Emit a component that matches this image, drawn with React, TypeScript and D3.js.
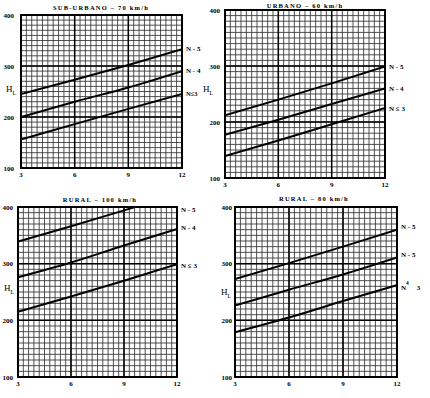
import React from "react";
import * as d3 from "d3";

// x = 3..12, y (H_L) = 100..400
const xTicks = [3, 6, 9, 12];
const yTicks = [100, 200, 300, 400];
const xSamples = [3, 6, 9, 12];

// SUB-URBANO 70 km/h
const subUrbanoN5 = [245, 273, 302, 333];
const subUrbanoN4 = [200, 230, 258, 290];
const subUrbanoN3 = [156, 186, 216, 245];

// URBANO 60 km/h
const urbanoN5 = [212, 240, 269, 299];
const urbanoN4 = [177, 204, 232, 260];
const urbanoN3 = [139, 167, 196, 225];

// RURAL 100 km/h (N-5 runs off the top)
const rural100N5 = [339, 366, 394, 422];
const rural100N4 = [276, 302, 332, 361];
const rural100N3 = [215, 242, 270, 299];

// RURAL 80 km/h
const rural80Top = [273, 301, 330, 360];
const rural80Mid = [226, 254, 281, 311];
const rural80Low = [179, 205, 234, 262];

const serif = "'Liberation Serif', 'DejaVu Serif', serif";

type Label = { text: React.ReactNode; dx?: number; dy?: number; size?: number };

type PanelProps = {
  id: string;
  title: string;
  titleX: number;
  titleY: number;
  left: number;
  right: number;
  top: number;
  bottom: number;
  series: number[][];
  labels: Label[];
  yLabelGap: number;
  hl: [number, number];
};

const Panel = (p: PanelProps) => {
  const x = d3.scaleLinear([3, 12], [p.left, p.right]);
  const y = d3.scaleLinear([100, 400], [p.bottom, p.top]);

  const minorX = d3.range(0, 31).map((i) => 3 + i * 0.3);
  const minorY = d3.range(0, 31).map((i) => 100 + i * 10);

  const line = d3
    .line<number>()
    .x((d, i) => x(xSamples[i]))
    .y((d) => y(d))
    .curve(d3.curveMonotoneX);

  return (
    <g>
      <defs>
        <clipPath id={p.id}>
          <rect x={p.left} y={p.top} width={p.right - p.left} height={p.bottom - p.top} />
        </clipPath>
      </defs>
      <text
        x={p.titleX}
        y={p.titleY}
        textAnchor="middle"
        fontSize={6.5}
        fontWeight="bold"
        letterSpacing={1.2}
        fontFamily={serif}
      >
        {p.title}
      </text>

      {minorX.map((v, i) => (
        <line key={"vx" + i} x1={x(v)} x2={x(v)} y1={p.top} y2={p.bottom} stroke="#333" strokeWidth={0.85} />
      ))}
      {minorY.map((v, i) => (
        <line key={"hy" + i} x1={p.left} x2={p.right} y1={y(v)} y2={y(v)} stroke="#333" strokeWidth={0.85} />
      ))}
      {xTicks.map((v) => (
        <line key={"mx" + v} x1={x(v)} x2={x(v)} y1={p.top} y2={p.bottom} stroke="#000" strokeWidth={1.5} />
      ))}
      {yTicks.map((v) => (
        <line key={"my" + v} x1={p.left} x2={p.right} y1={y(v)} y2={y(v)} stroke="#000" strokeWidth={1.5} />
      ))}
      <rect
        x={p.left}
        y={p.top}
        width={p.right - p.left}
        height={p.bottom - p.top}
        fill="none"
        stroke="#000"
        strokeWidth={2}
      />

      <g clipPath={`url(#${p.id})`}>
        {p.series.map((s, i) => (
          <path key={i} d={line(s) || ""} fill="none" stroke="#000" strokeWidth={2} />
        ))}
      </g>

      {yTicks.map((v) => (
        <text
          key={"yl" + v}
          x={p.left - p.yLabelGap}
          y={y(v) + 2.5}
          textAnchor="end"
          fontSize={7}
          fontWeight="bold"
          fontFamily={serif}
        >
          {v}
        </text>
      ))}
      {xTicks.map((v) => (
        <text
          key={"xl" + v}
          x={x(v)}
          y={p.bottom + 9}
          textAnchor="middle"
          fontSize={7}
          fontWeight="bold"
          fontFamily={serif}
        >
          {v}
        </text>
      ))}

      {p.series.map((s, i) => {
        const lab = p.labels[i];
        const end = Math.min(s[s.length - 1], 400);
        return (
          <text
            key={"sl" + i}
            x={p.right + 4 + (lab.dx || 0)}
            y={y(end) + 2.5 + (lab.dy || 0)}
            fontSize={lab.size || 7}
            fontWeight="bold"
            fontFamily={serif}
          >
            {lab.text}
          </text>
        );
      })}

      <text x={p.hl[0]} y={p.hl[1]} fontSize={9} fontFamily={serif}>
        H
        <tspan fontSize={6} dy={2.5}>
          L
        </tspan>
      </text>
    </g>
  );
};

const App = () => {
  const width = 430;
  const height = 398;
  return (
    <svg
      width={width}
      height={height}
      style={{ position: "absolute", left: 0, top: 0, background: "#fff" }}
    >
      <rect width={width} height={height} fill="#fff" />
      <Panel
        id="c1"
        title="SUB-URBANO – 70 km/h"
        titleX={101}
        titleY={10}
        left={21}
        right={182}
        top={15}
        bottom={168}
        series={[subUrbanoN5, subUrbanoN4, subUrbanoN3]}
        labels={[
          { text: "N - 5", dy: -1 },
          { text: "N - 4", dy: -1 },
          { text: "N≤3", dy: -1, size: 6.5 },
        ]}
        yLabelGap={7}
        hl={[6, 92]}
      />
      <Panel
        id="c2"
        title="URBANO – 60 km/h"
        titleX={305}
        titleY={8}
        left={225}
        right={385}
        top={10}
        bottom={178}
        series={[urbanoN5, urbanoN4, urbanoN3]}
        labels={[{ text: "N - 5" }, { text: "N - 4" }, { text: "N ≤ 3" }]}
        yLabelGap={5}
        hl={[203, 92]}
      />
      <Panel
        id="c3"
        title="RURAL – 100 km/h"
        titleX={100}
        titleY={202}
        left={18}
        right={177}
        top={207}
        bottom={377}
        series={[rural100N5, rural100N4, rural100N3]}
        labels={[{ text: "N - 5", dy: 2 }, { text: "N - 4", dy: -2 }, { text: "N ≤ 3", dy: 1 }]}
        yLabelGap={5}
        hl={[4, 291]}
      />
      <Panel
        id="c4"
        title="RURAL – 80 km/h"
        titleX={314}
        titleY={201}
        left={235}
        right={397}
        top={207}
        bottom={377}
        series={[rural80Top, rural80Mid, rural80Low]}
        labels={[
          { text: "N - 5", dy: -3 },
          { text: "N - 5", dy: -3 },
          {
            text: (
              <>
                N
                <tspan fontSize={5.5} dy={-5}>4</tspan>
                <tspan dx={8} dy={5}>3</tspan>
              </>
            ),
            dy: 2,
          },
        ]}
        yLabelGap={3}
        hl={[221, 295]}
      />
    </svg>
  );
};

export default App;
